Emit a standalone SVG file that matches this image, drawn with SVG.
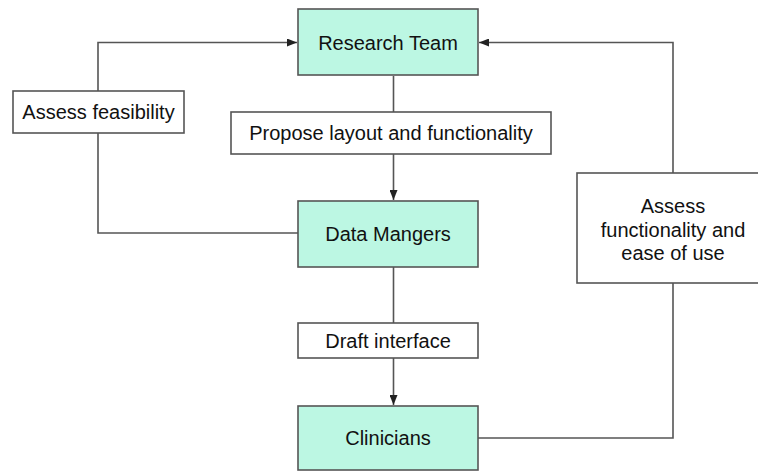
<svg xmlns="http://www.w3.org/2000/svg" width="758" height="472" viewBox="0 0 758 472">
<defs>
<marker id="arr" markerWidth="10" markerHeight="8" refX="10" refY="4" orient="auto" markerUnits="userSpaceOnUse">
<path d="M0,0 L10,4 L0,8 Z" fill="#222"/>
</marker>
<style>
.node{fill:#bcf7e3;stroke:#555;stroke-width:1.6}
.lab{fill:#fff;stroke:#555;stroke-width:1.6}
.edge{fill:none;stroke:#555;stroke-width:1.6}
text{font-family:"Liberation Sans",Arial,sans-serif;font-size:20px;fill:#111;text-anchor:middle}
</style>
</defs>
<rect width="758" height="472" fill="#fff"/>
<g id="connectors">
<path class="edge" d="M298,233 H98 V42.5 H297" marker-end="url(#arr)"/>
<path class="edge" d="M478,438 H673 V42.5 H479" marker-end="url(#arr)"/>
<path class="edge" d="M393.5,76 V200" marker-end="url(#arr)"/>
<path class="edge" d="M393.5,267 V405" marker-end="url(#arr)"/>
</g>
<g id="research-team"><rect class="node" x="298" y="9" width="180" height="66"/><text x="388" y="50">Research Team</text></g>
<g id="data-managers"><rect class="node" x="298" y="201" width="180" height="66"/><text x="388" y="241">Data Mangers</text></g>
<g id="clinicians"><rect class="node" x="298" y="406" width="180" height="64"/><text x="388" y="445">Clinicians</text></g>
<g id="assess-feasibility"><rect class="lab" x="13" y="91" width="171" height="42"/><text x="98.5" y="119">Assess feasibility</text></g>
<g id="propose"><rect class="lab" x="231" y="112" width="320" height="42"/><text x="391" y="140">Propose layout and functionality</text></g>
<g id="draft"><rect class="lab" x="298" y="323" width="180" height="35"/><text x="388" y="348">Draft interface</text></g>
<g id="assess-functionality"><rect class="lab" x="577" y="173" width="200" height="110"/><text x="673" y="213">Assess</text><text x="673" y="237">functionality and</text><text x="673" y="260">ease of use</text></g>
</svg>
